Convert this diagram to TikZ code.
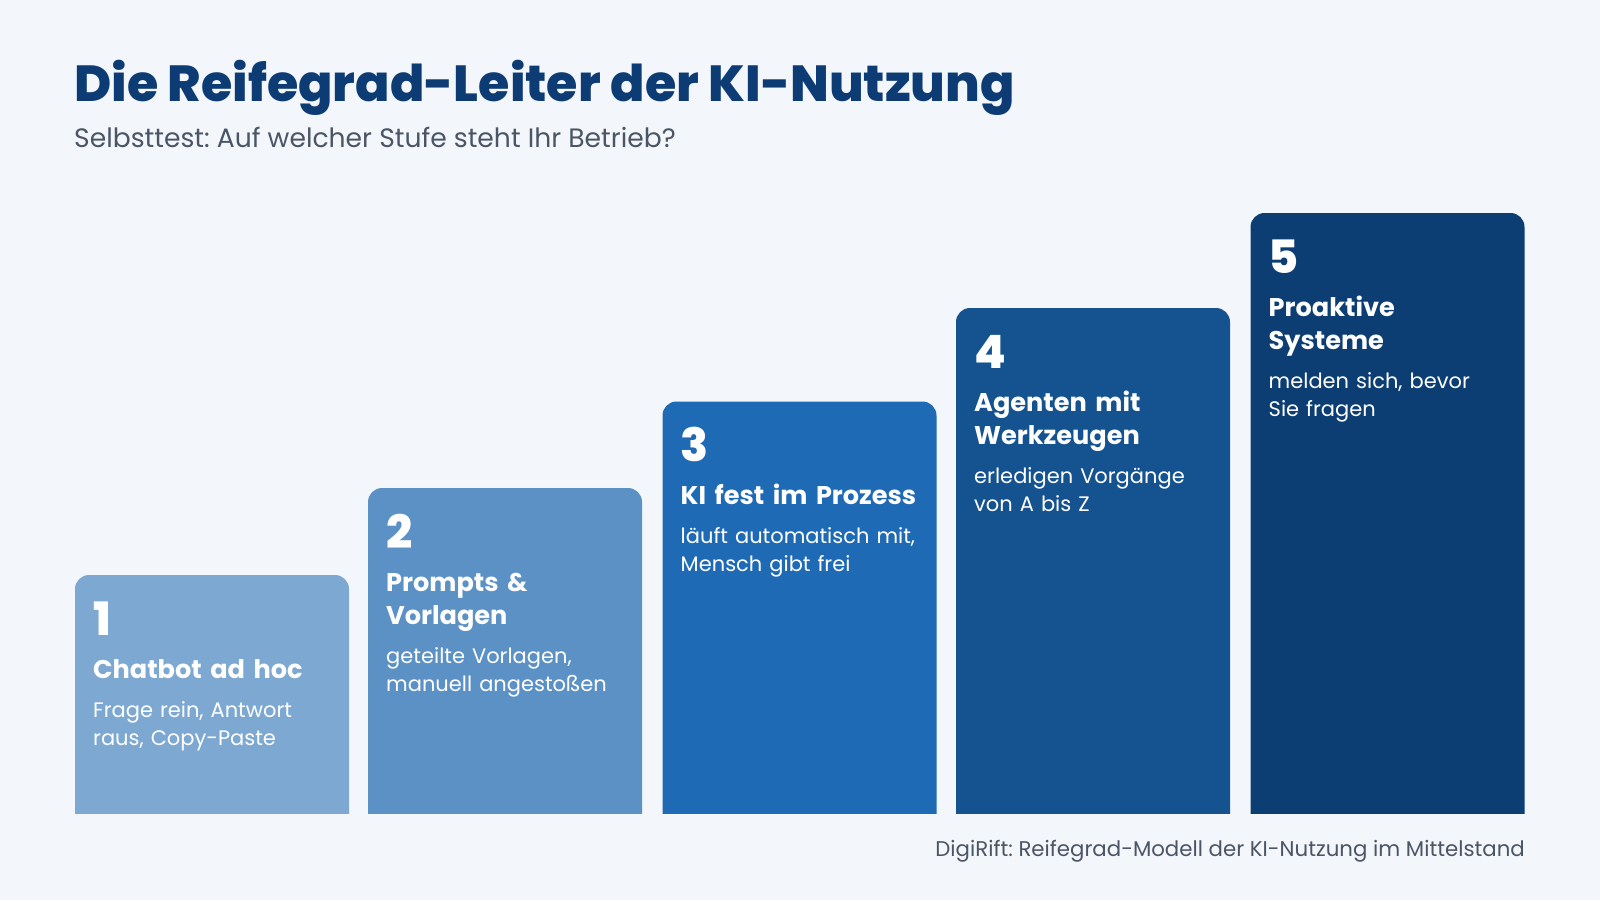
\documentclass[tikz,border=0pt]{standalone}
\usepackage{fontspec}
\setmainfont{Poppins}
\newfontfamily\popxb{Poppins ExtraBold}
\usepackage{xcolor}
\usepackage{tikz}
\usetikzlibrary{positioning}
\frenchspacing
\definecolor{hinter}{HTML}{F3F7FB}
\definecolor{navy}{HTML}{0D3B73}
\definecolor{grau}{HTML}{4A5565}
\definecolor{stufeA}{HTML}{7DA8D1}
\definecolor{stufeB}{HTML}{5B91C4}
\definecolor{stufeC}{HTML}{1F6AB4}
\definecolor{stufeD}{HTML}{155290}
\definecolor{stufeE}{HTML}{0C3D73}
\tikzstyle{titel} = [inner sep=0pt, anchor=base west, text=navy, font=\popxb\fontsize{50.7}{58}\selectfont]
\tikzstyle{untertitel} = [inner sep=0pt, anchor=base west, text=grau, font=\fontsize{26.6}{31}\selectfont]
\tikzstyle{stufe} = [rectangle, rounded corners=14pt, minimum width=274pt, inner sep=0pt, outer sep=0pt, anchor=south west]
\tikzstyle{nummer} = [inner sep=0pt, anchor=base west, text=white, font=\popxb\fontsize{46}{50}\selectfont]
\tikzstyle{kopf} = [inner sep=0pt, anchor=base west, text=white, text width=255pt, align=left, font=\bfseries\fontsize{25.6}{33}\selectfont]
\tikzstyle{info} = [inner sep=0pt, anchor=base west, text=white, text width=255pt, align=left, font=\fontsize{21}{28}\selectfont]

\begin{document}
\begin{tikzpicture}[x=1pt, y=-1pt]
   \fill[hinter] (0,0) rectangle (1600,900);
   \useasboundingbox (0,0) rectangle (1600,900);
   \node[titel] (titel) at (74,101) {Die Reifegrad-Leiter der KI-Nutzung};
   \node[untertitel] (sub) at (74,147) {Selbsttest: Auf welcher Stufe steht Ihr Betrieb?};

   \begin{scope}
   \clip (0,0) rectangle (1600,813);
   \node[stufe, fill=stufeA, minimum height=258pt] (s1) at (75,833) {};
   \node[stufe, fill=stufeB, minimum height=345pt] (s2) at (368,833) {};
   \node[stufe, fill=stufeC, minimum height=431.5pt] (s3) at (662.5,833) {};
   \node[stufe, fill=stufeD, minimum height=525pt] (s4) at (956,833) {};
   \node[stufe, fill=stufeE, minimum height=620pt] (s5) at (1250.5,833) {};
   \end{scope}

   \node[nummer] (n1) at ([xshift=18pt, yshift=-60pt]s1.north west) {1};
   \node[kopf, below=43pt of n1.base west, anchor=base west] (h1) {Chatbot ad hoc\strut};
   \node[info, below=29pt of h1.south west, anchor=base west] (d1) {Frage rein, Antwort\\raus, Copy-Paste};

   \node[nummer] (n2) at ([xshift=18pt, yshift=-60pt]s2.north west) {2};
   \node[kopf, below=43pt of n2.base west, anchor=base west] (h2) {Prompts \&\\Vorlagen\strut};
   \node[info, below=29pt of h2.south west, anchor=base west] (d2) {geteilte Vorlagen,\\manuell angestoßen};

   \node[nummer] (n3) at ([xshift=18pt, yshift=-60pt]s3.north west) {3};
   \node[kopf, below=43pt of n3.base west, anchor=base west] (h3) {KI fest im Prozess\strut};
   \node[info, below=29pt of h3.south west, anchor=base west] (d3) {läuft automatisch mit,\\Mensch gibt frei};

   \node[nummer] (n4) at ([xshift=18pt, yshift=-60pt]s4.north west) {4};
   \node[kopf, below=43pt of n4.base west, anchor=base west] (h4) {Agenten mit\\Werkzeugen\strut};
   \node[info, below=29pt of h4.south west, anchor=base west] (d4) {erledigen Vorgänge\\von A bis Z};

   \node[nummer] (n5) at ([xshift=18pt, yshift=-60pt]s5.north west) {5};
   \node[kopf, below=43pt of n5.base west, anchor=base west] (h5) {Proaktive\\Systeme\strut};
   \node[info, below=29pt of h5.south west, anchor=base west] (d5) {melden sich, bevor\\Sie fragen};

   \node[untertitel, anchor=base east, font=\fontsize{21.3}{26}\selectfont] (quelle) at (1525,856) {DigiRift: Reifegrad-Modell der KI-Nutzung im Mittelstand};
\end{tikzpicture}
\end{document}
